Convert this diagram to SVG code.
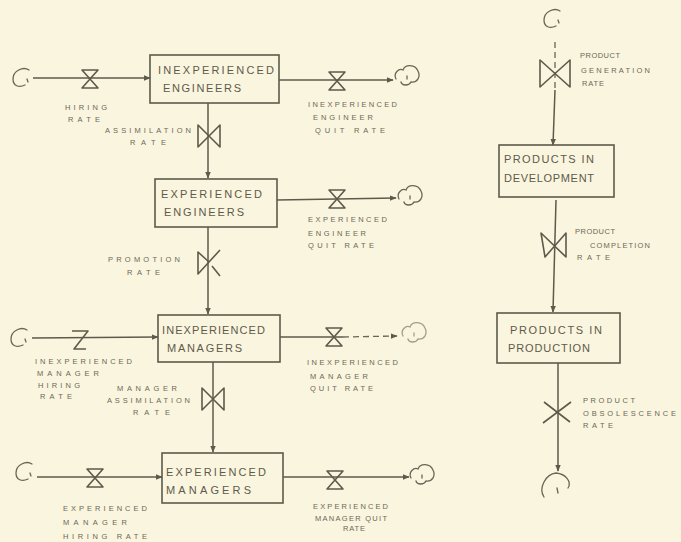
<svg xmlns="http://www.w3.org/2000/svg" xmlns:xlink="http://www.w3.org/1999/xlink" width="681" height="542" viewBox="0 0 681 542">
<style>
.bg{fill:#faf5de}
.box{fill:none;stroke:#5e5a4b;stroke-width:1.6}
.flow{fill:none;stroke:#5e5a4b;stroke-width:1.5}
.dash{fill:none;stroke:#6a6656;stroke-width:1.3;stroke-dasharray:6 4}
.valve{fill:none;stroke:#5e5a4b;stroke-width:1.6;stroke-linejoin:round}
.cloud{fill:none;stroke:#6a6656;stroke-width:1.3;stroke-linecap:round}
.bt{font-family:"Liberation Sans",Arial,sans-serif;font-size:11px;fill:#5e5a4b}
.lb{font-family:"Liberation Sans",Arial,sans-serif;font-size:7.5px;fill:#6c6858}
</style>
<defs>
<marker id="ar" viewBox="0 0 10 10" refX="9" refY="5" markerWidth="7" markerHeight="7" orient="auto" markerUnits="userSpaceOnUse">
<path d="M0,1 L10,5 L0,9 Z" fill="#5e5a4b"/>
</marker>
<g id="vh"><path class="valve" d="M-8,-9 L8,-9 L-8,9 L8,9 Z"/></g>
<g id="vv"><path class="valve" d="M-11,-11 L-11,11 L11,-11 L11,11 Z"/></g>
<g id="src"><path class="cloud" d="M7,-8 C1,-12 -9,-7 -9,1 C-9,8 -3,10 3,7 M5,1 L6,4"/></g>
<g id="snk"><path class="cloud" d="M-9,3 C-12,-3 -6,-8 -2,-6 C0,-12 10,-12 13,-5 C16,1 12,7 6,6 C4,10 -3,10 -4,6 M2,0 L2,3"/></g>
</defs>
<rect class="bg" x="0" y="0" width="681" height="542"/>

<g id="connectors">
<line class="flow" x1="33" y1="78" x2="150" y2="78" marker-end="url(#ar)"/>
<line class="flow" x1="279" y1="80" x2="393" y2="80" marker-end="url(#ar)"/>
<line class="flow" x1="208" y1="103" x2="208" y2="178" marker-end="url(#ar)"/>
<line class="flow" x1="277" y1="200" x2="396" y2="198" marker-end="url(#ar)"/>
<line class="flow" x1="208" y1="227" x2="208" y2="314" marker-end="url(#ar)"/>
<line class="flow" x1="32" y1="338" x2="158" y2="337" marker-end="url(#ar)"/>
<line class="flow" x1="280" y1="337" x2="343" y2="337"/>
<line class="dash" x1="343" y1="337" x2="397" y2="336" marker-end="url(#ar)"/>
<line class="flow" x1="213" y1="362" x2="213" y2="452" marker-end="url(#ar)"/>
<line class="flow" x1="37" y1="477" x2="162" y2="477" marker-end="url(#ar)"/>
<line class="flow" x1="283" y1="477" x2="409" y2="477" marker-end="url(#ar)"/>
<line class="dash" x1="555" y1="42" x2="555" y2="90"/>
<line class="flow" x1="555" y1="90" x2="553" y2="145" marker-end="url(#ar)"/>
<line class="flow" x1="556" y1="200" x2="553" y2="312" marker-end="url(#ar)"/>
<line class="flow" x1="558" y1="363" x2="558" y2="471" marker-end="url(#ar)"/>
</g>

<g id="clouds">
<use href="#src" x="22" y="78"/>
<use href="#snk" x="405" y="76"/>
<use href="#snk" x="408" y="196"/>
<use href="#src" x="20" y="338"/>
<g opacity="0.6"><use href="#snk" x="412" y="333"/></g>
<use href="#src" x="25" y="472"/>
<use href="#snk" x="420" y="475"/>
<use href="#src" x="553" y="19"/>
<path class="cloud" d="M544,497 C538,488 546,474 556,473 C566,474 572,482 568,488 M557,488 L558,493"/>
</g>

<g id="valves">
<use href="#vh" x="90" y="79"/>
<use href="#vh" x="337" y="81"/>
<use href="#vv" x="209" y="136"/>
<use href="#vh" x="337" y="199"/>
<path class="valve" d="M220,250 L209,262 L198,252 L198,274 L209,262 M212,266 L220,276"/>
<path class="valve" d="M72,331 L88,331 L74,349 L86,349"/>
<use href="#vh" x="334" y="337"/>
<use href="#vv" x="213" y="399"/>
<use href="#vh" x="95" y="478"/>
<use href="#vh" x="335" y="480"/>
<path class="valve" d="M540,60 L540,87 L570,60 L570,87 Z"/>
<path class="valve" d="M541,233 L545,257 L566,233 L566,257 Z"/>
<path class="valve" d="M544,402 L570,422 M571,402 L543,423"/>
</g>

<g id="n1"><rect class="box" x="150" y="55" width="129" height="48"/>
<text class="bt" x="158" y="74" textLength="116">INEXPERIENCED</text>
<text class="bt" x="163" y="92" textLength="78">ENGINEERS</text></g>
<g id="n2"><rect class="box" x="155" y="179" width="122" height="48"/>
<text class="bt" x="161" y="198" textLength="101">EXPERIENCED</text>
<text class="bt" x="164" y="216" textLength="80">ENGINEERS</text></g>
<g id="n3"><rect class="box" x="158" y="315" width="122" height="47"/>
<text class="bt" x="162" y="334" textLength="103">INEXPERIENCED</text>
<text class="bt" x="167" y="352" textLength="75">MANAGERS</text></g>
<g id="n4"><rect class="box" x="162" y="453" width="121" height="50"/>
<text class="bt" x="166" y="476" textLength="100">EXPERIENCED</text>
<text class="bt" x="166" y="494" textLength="85">MANAGERS</text></g>
<g id="n5"><rect class="box" x="499" y="145" width="115" height="52"/>
<text class="bt" x="504" y="163" textLength="90">PRODUCTS IN</text>
<text class="bt" x="504" y="182" textLength="90">DEVELOPMENT</text></g>
<g id="n6"><rect class="box" x="497" y="313" width="123" height="50"/>
<text class="bt" x="510" y="334" textLength="92">PRODUCTS IN</text>
<text class="bt" x="508" y="352" textLength="82">PRODUCTION</text></g>

<g id="labels">
<text class="lb" x="65" y="110" textLength="42">HIRING</text>
<text class="lb" x="68" y="122" textLength="32">RATE</text>
<text class="lb" x="105" y="133" textLength="86">ASSIMILATION</text>
<text class="lb" x="130" y="145" textLength="36">RATE</text>
<text class="lb" x="308" y="107" textLength="89">INEXPERIENCED</text>
<text class="lb" x="313" y="120" textLength="60">ENGINEER</text>
<text class="lb" x="315" y="133" textLength="70">QUIT RATE</text>
<text class="lb" x="308" y="222" textLength="79">EXPERIENCED</text>
<text class="lb" x="308" y="236" textLength="58">ENGINEER</text>
<text class="lb" x="308" y="248" textLength="66">QUIT RATE</text>
<text class="lb" x="108" y="262" textLength="72">PROMOTION</text>
<text class="lb" x="127" y="275" textLength="33">RATE</text>
<text class="lb" x="35" y="364" textLength="97">INEXPERIENCED</text>
<text class="lb" x="37" y="376" textLength="62">MANAGER</text>
<text class="lb" x="38" y="388" textLength="42">HIRING</text>
<text class="lb" x="40" y="399" textLength="32">RATE</text>
<text class="lb" x="307" y="365" textLength="91">INEXPERIENCED</text>
<text class="lb" x="310" y="379" textLength="58">MANAGER</text>
<text class="lb" x="310" y="391" textLength="63">QUIT RATE</text>
<text class="lb" x="117" y="391" textLength="60">MANAGER</text>
<text class="lb" x="107" y="403" textLength="83">ASSIMILATION</text>
<text class="lb" x="133" y="415" textLength="37">RATE</text>
<text class="lb" x="63" y="511" textLength="84">EXPERIENCED</text>
<text class="lb" x="63" y="525" textLength="64">MANAGER</text>
<text class="lb" x="63" y="539" textLength="84">HIRING RATE</text>
<text class="lb" x="313" y="509" textLength="75">EXPERIENCED</text>
<text class="lb" x="315" y="521" textLength="72">MANAGER QUIT</text>
<text class="lb" x="343" y="531" textLength="22">RATE</text>
<text class="lb" x="580" y="58" textLength="40">PRODUCT</text>
<text class="lb" x="581" y="73" textLength="69">GENERATION</text>
<text class="lb" x="582" y="86" textLength="22">RATE</text>
<text class="lb" x="575" y="234" textLength="40">PRODUCT</text>
<text class="lb" x="590" y="248" textLength="60">COMPLETION</text>
<text class="lb" x="577" y="260" textLength="33">RATE</text>
<text class="lb" x="583" y="403" textLength="52">PRODUCT</text>
<text class="lb" x="583" y="416" textLength="93">OBSOLESCENCE</text>
<text class="lb" x="583" y="428" textLength="30">RATE</text>
</g>
</svg>
